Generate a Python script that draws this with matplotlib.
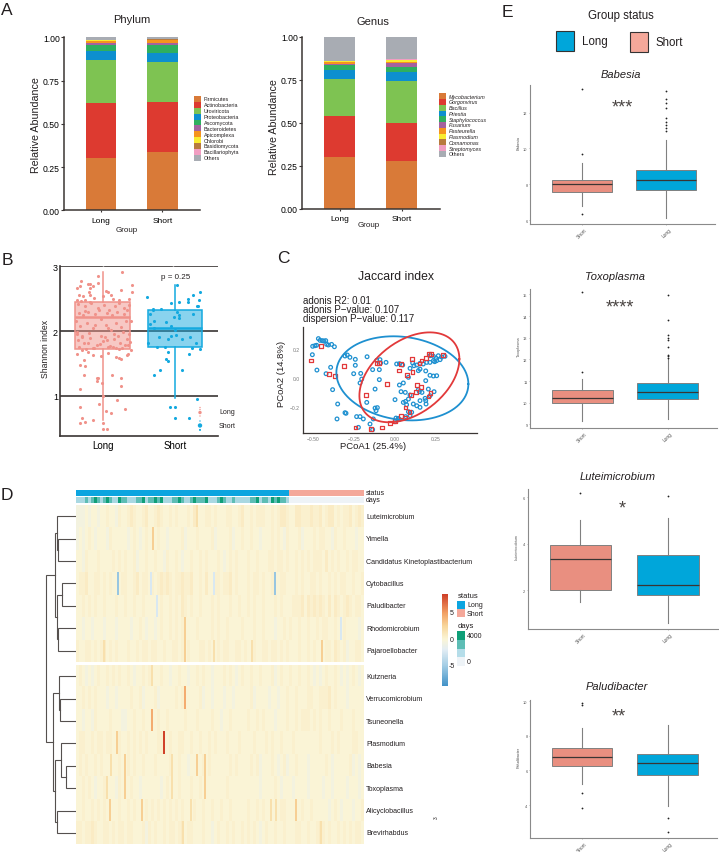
import matplotlib
matplotlib.use("Agg")
import matplotlib.pyplot as plt
import numpy as np
from matplotlib.patches import Rectangle
from matplotlib.colors import LinearSegmentedColormap, ListedColormap

plt.rcParams['font.family'] = ['Liberation Sans', 'DejaVu Sans']
W, H = 719, 853
DARK = '#3a3533'

# ---------- A: stacked bars ----------
groups = ['Long', 'Short']
phylum_names = ['Firmicutes', 'Actinobacteria', 'Uroviricota', 'Proteobacteria', 'Ascomycota', 'Bacteroidetes',
                'Apicomplexa', 'Chlorobi', 'Basidiomycota', 'Bacillariophyta', 'Others']
phylum_long = [.304, .318, .245, .056, .033, .013, .010, .004, .002, .002, .013]
phylum_short = [.335, .293, .229, .050, .049, .011, .016, .003, .002, .002, .010]
genus_names = ['Mycobacterium', 'Gorgonvirus', 'Bacillus', 'Priestia', 'Staphylococcus', 'Fusarium',
               'Pasteurella', 'Plasmodium', 'Comamonas', 'Streptomyces', 'Others']
genus_long = [.299, .237, .217, .053, .031, .004, .009, .006, .002, .002, .140]
genus_short = [.276, .223, .245, .050, .029, .026, .003, .012, .002, .004, .130]
stack_colors = ['#D97A38', '#DD3A30', '#7EC352', '#0D8FCF', '#2FAF5F', '#A4629F',
                '#F5941E', '#F9EC31', '#B87A3E', '#F19EC2', '#A8ACB3']

# ---------- B: Shannon ----------
long_x = [-.32, -.29, -.32, -.25, -.13, -.055, .04, .12, .2, .31, 0, .01, .01, .06, -.31, -.26, -.31, -.24, -.26, -.36,
          -.29, -.08, -.06, -.08, -.01, .13, .25, .25, .19, .22, .25, -.02, .08, -.14, -.2, .34, .35, .39,
          .27, -.06, -.3, -.36, -.31, -.21, -.18, -.17, -.19, -.07, -.13, .4, .4, .25, .05, .07, .12, -.33, -.27, -.18,
          -.12, .01, .14, .36, .22, -.36, -.3, -.25, -.17,
          -.34, -.25, -.24, -.16, -.07, .02, .09, .17, .23, .3, .37, -.33, -.27, -.2, -.11, -.05, .06, .13, .2, .29, .34,
          -.37, -.31, -.22, -.14, -.03, .05, .11, .18, .26, .32, .39, -.35, -.28, -.19, -.1, .03, .08, .15, .21, .28, .36,
          -.34, -.26, -.17, -.08, .0, .07, .16, .24, .31, .38, -.33, -.23, -.12, -.04, .1, .19, .27, .35,
          -.36, -.29, -.21, -.13, -.02, .06, .14, .22, .33]
long_y = [.82, .66, .58, .59, .62, .87, .76, .74, .94, .79, 1.0, .58, .49, .49, 1.11, 1.32, 1.48, 1.46, 1.55, 1.65,
          1.71, 1.27, 1.27, 1.22, 1.19, 1.32, 1.28, 1.15, 1.6, 1.58, 1.57, 1.62, 1.66, 1.63, 1.68, 1.63, 1.64, 1.7,
          2.92, 2.85, 2.78, 2.66, 2.69, 2.73, 2.73, 2.66, 2.61, 2.75, 2.7, 2.71, 2.61, 2.64, 2.62, 2.61, 2.55, 2.55, 2.54, 2.55,
          2.51, 2.54, 2.49, 2.5, 2.48, 2.48, 2.47, 2.48, 2.45,
          2.42, 2.39, 2.31, 2.43, 2.36, 2.41, 2.33, 2.39, 2.44, 2.35, 2.4, 2.28, 2.25, 2.3, 2.26, 2.32, 2.28, 2.24, 2.3, 2.27, 2.32,
          2.15, 2.08, 2.12, 2.05, 2.18, 2.1, 2.02, 2.13, 2.06, 2.16, 2.15, 1.98, 1.93, 1.97, 2.09, 1.9, 2.04, 1.96, 1.92, 1.99, 1.95,
          1.86, 1.82, 1.89, 1.78, 1.84, 1.76, 1.88, 1.81, 1.79, 1.83, 1.76, 1.72, 1.74, 1.8, 1.77, 1.74, 1.73, 1.78,
          1.95, 1.9, 1.82, 1.73, 1.92, 1.86, 1.75, 1.72, 1.87]
short_x = [-.39, .03, -.05, .06, .18, .18, .25, .34, .33, .3, .32, -.31, -.3, -.19, -.34, .03, .06, .05, -.01, .25, -.29,
           -.12, -.35, -.29, -.06, 0, -.22, .02, -.05, -.09, .1, .21, -.38, .29, -.25, -.14, .24, .35, .19, -.1, -.12, -.1,
           -.21, -.29, .1, .3, -.07, 0, 0, .2]
short_y = [2.53, 2.71, 2.43, 2.45, 2.49, 2.45, 2.56, 2.6, 2.48, 2.38, 2.38, 2.34, 2.32, 2.34, 2.27, 2.3, 2.25, 2.2, 2.22, 2.27, 2.16,
           2.14, 2.11, 2.04, 2.07, 2.02, 1.9, 1.94, 1.93, 1.87, 1.88, 1.9, 1.82, 1.82, 1.75, 1.75, 1.73, 1.72, 1.65, 1.68, 1.57, 1.54,
           1.4, 1.32, 1.39, .95, .83, .83, .65, .65]
shannon_long_box = dict(q1=1.716, med=2.22, q3=2.45, whislo=.62, whishi=2.92, fliers=[])
shannon_short_box = dict(q1=1.75, med=2.05, q3=2.33, whislo=.96, whishi=2.71, fliers=[])

# ---------- C: PCoA ----------
pc_blue_x = [-.469, -.459, -.445, -.435, -.424, -.504, -.49, -.48, -.418, -.408, -.388, -.371, -.506, -.478, -.394, -.422,
             -.382, -.351, -.355, -.306, -.3, -.306, -.292, -.276, -.243, -.243, -.253, -.21, -.204, -.214, -.171, -.112,
             -.092, -.088, -.055, -.096, -.137, -.096, -.122, -.173, -.122, -.108, -.116, -.235, -.214, -.224, -.153, -.137,
             -.194, -.133, .006, .02, 0, .027, .01, .027, .047, .108, .116, .133, .153, .173, .194, .214, .235, .251, .265,
             .286, .306, .276, .255, .243, .214, .235, .188, .153, .143, .092, .214, .235, .255, .188, .082, .051, .027, .037,
             .063, .092, .149, .165, .143, .204, .239, .214, 0, .065, .051, .082, .071, .112, .133, .153, .184, .188, .19,
             .153, .082, .102, .065, .092]
pc_blue_y = [.274, .262, .26, .257, .26, .221, .225, .228, .234, .23, .234, .218, .163, .057, .076, .032, -.078, -.177, -.28,
             -.237, -.241, .154, .161, .145, .131, .09, .032, .034, -.005, -.032, .149, .124, .129, .106, .11, .06, .06, -.009,
             -.074, -.166, -.205, -.202, -.223, -.264, -.264, -.338, -.315, -.354, -.28, -.28, -.274, -.276, -.299, -.283,
             .099, .101, .092, .106, .087, .092, .103, .099, .11, .11, .122, .138, .156, .147, .152, .129, .122, .115, .156,
             .152, .051, .064, .053, .069, .021, .016, .018, -.016, .007, -.032, -.046, -.092, -.097, -.115, -.092, -.097,
             -.078, -.074, -.092, -.12, -.147, -.159, -.166, -.143, -.182, -.177, -.189, -.154, -.138, -.154, -.177, -.2,
             -.23, -.234, -.264, -.257]
pc_red_x = [-.514, -.451, -.404, -.369, -.312, -.178, -.241, -.147, -.078, -.049, -.112, -.096, .035, .024, .073, .108, .104,
            .149, .163, .188, .208, .22, .292, .133, .159, .096, .127, .204, .218, .065, .088, .035, 0, -.031, .061]
pc_red_y = [.124, .225, .032, .014, .085, -.115, -.34, -.349, -.34, -.039, .106, .106, .097, .053, .023, .046, .133, .103, .122,
            .138, .168, .168, .161, -.046, -.06, -.113, -.092, -.126, -.103, -.202, -.234, -.26, -.292, -.308, -.269]
# ellipse: centre x, centre y, x radius, y radius, phase (rad)
ell_blue = (.045, 0.0, .404, .29, -.136)
ell_red = (.088, .007, .306, .31, .42)

# ---------- D: heatmap ----------
row_labels = ['Luteimicrobium', 'Yimella', 'Candidatus Kinetoplastibacterium', 'Cytobacillus', 'Paludibacter',
              'Rhodomicrobium', 'Pajaroellobacter', 'Kutzneria', 'Verrucomicrobium', 'Tsuneonella', 'Plasmodium',
              'Babesia', 'Toxoplasma', 'Alicyclobacillus', 'Brevirhabdus']
heat_levels = {'0': -5.5, '1': -2.5, '2': -.6, '3': 0, '4': .35, '5': .75, '6': 1.7, '7': 2.8, '8': 4.5, '9': 8.5}
# broad background value per 3-sample block
heat_rows = [
    "22232332 33433243 34543345 33454334 34333435 33344343 33443345 33434443 34345543 35544454 45345534 34453454",
    "23234323 33243333 32343234 33343323 33342333 43333423 33342334 33433233 34343243 33423334 34433243 34333233",
    "33243334 33334343 43342334 33433243 34323343 34343334 32343433 34334333 44344343 34343434 44353434 33434433",
    "34453344 34343334 43345344 34345454 34454453 34353344 34453433 34344343 34334433 34343344 34334343 44334334",
    "33434343 34333433 43343343 33334334 34354343 34333434 33343343 34343343 33434333 44453545 45435354 34543443",
    "33233233 32333233 33233432 33234334 34343333 43333434 33433334 33343343 33233434 33433433 43443343 34333323",
    "43344343 45343433 34334344 34433433 44343433 34434334 34433443 43343344 34434343 33433434 33344354 34233443",
    "34323234 33434343 34323343 43334332 33433233 43433233 34343234 33433433 34234334 33433432 32343343 23234323",
    "33434343 33233233 33433423 33423333 34343333 34233233 32332333 33423333 23323343 34333443 34445343 33233333",
    "33233243 33343332 23343343 33343343 33334333 43333433 23343333 34334343 33233343 34344434 34334333 43334333",
    "34433434 43443343 34343434 33344334 33443343 34334343 33433343 33343334 34334333 43333333 34333434 33334433",
    "34343343 43333343 34343343 33433334 33433233 33434333 33343433 33434233 34323423 34333233 33343233 33342323",
    "33434323 34333243 33433233 33332343 33433343 34333333 33433333 33333233 33432333 23333233 33233233 33233323",
    "33433434 34333343 34343334 34343434 34343334 33433433 43343333 34334343 33334433 33343343 33332343 23332334",
    "44344543 34434344 34433342 43433434 43453443 33433234 33434334 34343234 33433433 34433433 45434334 34343443",
]
# narrow stripes, each two samples wide: (row, first sample, level)
heat_spikes = [(0, 120, '6'), (1, 76, '7'), (3, 41, '0'), (3, 74, '1'), (3, 137, '1'), (3, 198, '0'), (4, 80, '1'),
               (5, 108, '7'), (5, 264, '1'), (6, 27, '6'), (6, 108, '7'), (6, 137, '6'), (6, 175, '6'), (6, 245, '7'),
               (7, 75, '6'), (8, 108, '8'), (9, 75, '8'), (10, 87, '9'), (10, 40, '7'), (11, 48, '7'),
               (11, 34, '6'), (11, 120, '7'), (11, 128, '7'), (11, 95, '6'), (12, 48, '7'), (12, 95, '6'), (12, 128, '7'),
               (12, 30, '6'), (13, 33, '7'), (13, 65, '7'), (13, 219, '7'), (13, 194, '6'), (13, 199, '6'), (13, 114, '6'),
               (14, 244, '6'), (14, 106, '6')]
status_row = "11111111 11111111 11111111 11111111 11111111 11111111 11111111 11111111 11111110 00000000 00000000 00000000"
days_row = "11121232 12321132 21112231 22323111 22321123 22231112 32112111 11223122 13232210 00000000 00000000 00000000"
# leaf = row index, node = (height, child, child)
tree = (30,
        (21, (18.7, 0, (17.7, 1, 2)), (18.7, (14.3, 3, 4), (17.7, 5, 6))),
        (22.7, (17, 7, (16, 8, 9)), (21, (15, 10, (10.3, 11, 12)), (18.7, 13, 14))))
status_names = ['Long', 'Short']
cbar_ticks = [5, 0, -5]

# ---------- E: boxplots ----------
box_titles = ['Babesia', 'Toxoplasma', 'Luteimicrobium', 'Paludibacter']
box_stars = ['***', '****', '*', '**']
box_short = [
    dict(q1=7.59, med=8.0, q3=8.26, whislo=6.81, whishi=9.17, fliers=[9.69, 6.35, 13.3]),
    dict(q1=10.0, med=10.23, q3=10.57, whislo=9.14, whishi=11.09, fliers=[11.43, 15.09]),
    dict(q1=2.03, med=3.37, q3=3.97, whislo=1.5, whishi=5.02, fliers=[6.17]),
    dict(q1=6.25, med=6.75, q3=7.29, whislo=5.19, whishi=8.42, fliers=[4.67, 3.82, 9.79, 9.88]),
]
box_long = [
    dict(q1=7.7, med=8.22, q3=8.82, whislo=6.1, whishi=10.49,
         fliers=[13.19, 12.78, 12.54, 12.28, 11.68, 11.46, 11.3, 11.16, 11.0]),
    dict(q1=10.18, med=10.49, q3=10.92, whislo=9.25, whishi=12.05,
         fliers=[14.97, 13.83, 13.15, 12.98, 12.9, 12.57, 12.2, 12.15, 12.08]),
    dict(q1=1.8, med=2.21, q3=3.5, whislo=.6, whishi=5.13, fliers=[6.07]),
    dict(q1=5.73, med=6.42, q3=6.94, whislo=3.96, whishi=8.63, fliers=[3.23, 2.44]),
]
box_ylim = [(5.79, 13.54), (8.85, 15.25), (.337, 6.36), (2.08, 10.08)]
box_yticks = [[6, 8, 10, 12], [9, 10, 11, 12, 13, 14, 15], [2, 4, 6], [4, 6, 8, 10]]
box_rect = [(530.3, 86, 715, 225), (530.3, 290, 717, 428.7), (527.7, 490, 717.7, 630), (530.3, 700.7, 716.7, 839.3)]

fig = plt.figure(figsize=(W / 100, H / 100), dpi=100, facecolor='white')


def px_axes(l, t, r, b, **kw):
    return fig.add_axes([l / W, 1 - b / H, (r - l) / W, (b - t) / H], **kw)


ov = px_axes(0, 0, W, H)
ov.set_xlim(0, W)
ov.set_ylim(H, 0)
ov.axis('off')
ov.set_zorder(10)
ov.patch.set_alpha(0)


def T(x, y, s, size=6, ha='center', va='center', **kw):
    kw.setdefault('color', '#231f20')
    ov.text(x, y, s, fontsize=size, ha=ha, va=va, **kw)


for s, x, y in [('A', 7, 10), ('B', 7, 260), ('C', 283, 258), ('D', 7, 495), ('E', 507, 12)]:
    T(x, y, s, size=12.5)


def stacked(rect, a, b):
    ax = px_axes(*rect)
    bot = np.zeros(2)
    for k in range(len(a)):
        v = np.array([a[k], b[k]])
        ax.bar([0, 1], v, bottom=bot, width=.5, color=stack_colors[k], lw=0)
        bot += v
    return ax


def style_stack(ax, names, title, tp, gp, yp, key, italic):
    ax.set_xticks([0, 1], groups)
    ax.set_ylim(0, 1)
    ax.set_yticks([0, .25, .5, .75, 1], ['0.00', '0.25', '0.50', '0.75', '1.00'])
    ax.tick_params(axis='y', labelsize=6.2, length=2, width=.8, pad=1, color=DARK)
    ax.tick_params(axis='x', labelsize=6, length=1.5, width=.8, pad=3, color=DARK)
    for s in ['top', 'right']:
        ax.spines[s].set_visible(False)
    for s in ['left', 'bottom']:
        ax.spines[s].set_linewidth(1.1)
        ax.spines[s].set_color(DARK)
    T(*tp, title, size=8)
    T(*gp, 'Group', size=5.8)
    T(*yp, 'Relative Abundance', size=7.7, rotation=90)
    x0, x1, y0, step, tx = key
    for k, n in enumerate(names):
        ov.add_patch(Rectangle((x0, y0 + k * step), x1 - x0, step, fc=stack_colors[k], lw=0))
        st = 'italic' if italic and n != 'Others' else 'normal'
        T(tx, y0 + (k + .5) * step, n, size=3.9, ha='left', style=st)


# bars: 1 unit = 61.3 px, bar centres at 101 and 162.3
ax = stacked((64, 38.3, 200, 211.3), phylum_long, phylum_short)
ax.set_xlim((64 - 101) / 61.3, (200 - 101) / 61.3)
style_stack(ax, phylum_names, 'Phylum', (132, 20), (127, 230), (36, 125), (194.3, 201, 97, 5.88, 204), False)
ax = stacked((302, 37.7, 440, 209.5), genus_long, genus_short)
ax.set_xlim((302 - 339.5) / 62, (440 - 339.5) / 62)
style_stack(ax, genus_names, 'Genus', (373, 22.3), (368.7, 225), (274, 126.7), (438.7, 445.7, 94.3, 5.76, 448.7), True)

# ---------- B ----------
PINK, BLUE = '#F0928A', '#14A9DF'
ax = px_axes(60, 266.7, 218, 437.3)
ax.set_xlim((60 - 102.7) / 72.3, (218 - 102.7) / 72.3)
ax.set_ylim(.372, 3.01)
ax.hlines([1, 2, 3], *ax.get_xlim(), color=DARK, lw=1.2, zorder=1)
ax.vlines([0, .97], 2.96, 3.01, color='white', lw=1, zorder=1.5)
ax.scatter(long_x, long_y, s=5, color=PINK, lw=0, zorder=2)
ax.scatter(np.array(short_x) + 1, short_y, s=5, color=BLUE, lw=0, zorder=2)
for st, pos, c in [(shannon_long_box, 0, PINK), (shannon_short_box, 1, BLUE)]:
    ax.bxp([dict(st)], positions=[pos], widths=.756, patch_artist=True, showcaps=False, showfliers=False,
           boxprops=dict(facecolor=matplotlib.colors.to_rgba(c, .5), edgecolor=c, lw=1.1),
           whiskerprops=dict(color=c, lw=1.1), medianprops=dict(color=c, lw=1.8), zorder=3)
ax.set_xticks([0, 1], ['Long', 'Short'])
ax.set_yticks([1, 2, 3], ['1', '2', '3'])
ax.tick_params(axis='x', labelsize=7, length=0, pad=3)
ax.tick_params(axis='y', labelsize=6.5, length=0, pad=1.5)
for s in ['top', 'right']:
    ax.spines[s].set_visible(False)
for s in ['left', 'bottom']:
    ax.spines[s].set_linewidth(1.2)
    ax.spines[s].set_color(DARK)
T(45, 349, 'Shannon index', size=6.2, rotation=90)
T(176, 277.7, 'p = 0.25', size=5.8)
T(219, 413, 'Long', size=5, ha='left')
T(219, 426, 'Short', size=5, ha='left')
ov.scatter([200, 200, 200, 200], [408.5, 410.5, 413.5, 417], s=[1, 1, 6, 1], color=PINK, lw=0)
ov.scatter([200, 200, 200, 200], [422, 426.5, 430.5, 431], s=[1, 10, 1, 2], color=BLUE, lw=0)

# ---------- C ----------
ax = px_axes(302.7, 328.3, 476.7, 434.3)
ax.set_xlim(-.565, .5)
ax.set_ylim(-.379, .352)
ax.scatter(pc_blue_x, pc_blue_y, s=7, facecolors='none', edgecolors='#1E90D0', lw=.9, zorder=2)
ax.scatter(pc_red_x, pc_red_y, s=7, marker='s', facecolors='none', edgecolors='#E2393A', lw=.9, zorder=3)
t = np.linspace(0, 2 * np.pi, 200)
for (cx, cy, rx, ry, ph), c in [(ell_blue, '#1E90D0'), (ell_red, '#E2393A')]:
    ax.plot(cx + rx * np.cos(t), cy + ry * np.sin(t + ph), color=c, lw=1.3, zorder=4, clip_on=False)
ax.set_xticks([-.5, -.25, 0, .25], ['−0.50', '−0.25', '0.00', '0.25'])
ax.set_yticks([-.2, 0, .2], ['−0.2', '0.0', '0.2'])
ax.tick_params(axis='both', labelsize=3.6, labelcolor='#777777', length=0, pad=2)
for s in ['top', 'right']:
    ax.spines[s].set_visible(False)
for s in ['left', 'bottom']:
    ax.spines[s].set_linewidth(.9)
    ax.spines[s].set_color(DARK)
T(396, 276.7, 'Jaccard index', size=8.8)
T(303.3, 300.7, 'adonis R2: 0.01', size=7, ha='left')
T(303.3, 310, 'adonis P−value: 0.107', size=7, ha='left')
T(303.3, 319.3, 'dispersion P−value: 0.117', size=7, ha='left')
T(373.3, 446.7, 'PCoA1 (25.4%)', size=6.8)
T(282, 374, 'PCoA2 (14.8%)', size=6.8, rotation=90)

# ---------- D ----------
heat_cmap = LinearSegmentedColormap.from_list('heat', [
    (0, '#4393C8'), ((-5 + 9) / 17.65, '#a6cfe6'), ((-2 + 9) / 17.65, '#e4eef4'), ((0 + 9) / 17.65, '#fbf5d6'),
    ((2.5 + 9) / 17.65, '#f8d79c'), ((5 + 9) / 17.65, '#f3a265'), (1, '#cf3f28')])
M = np.array([[heat_levels[c] for c in r.replace(' ', '')] for r in heat_rows])
M = np.repeat(M, 3, axis=1)
for r, c, lv in heat_spikes:
    M[r, c:c + 2] = heat_levels[lv]
HL, HR = 76, 364
ROW_H = 22.4
for (a, b, top) in [(0, 7, 506), (7, 15, 666)]:
    ax = px_axes(HL, top, HR, top + ROW_H * (b - a))
    ax.imshow(M[a:b], aspect='auto', cmap=heat_cmap, vmin=-9, vmax=8.65, interpolation='nearest')
    ax.axis('off')
    for i in range(a, b):
        T(366, top + ROW_H * (i - a + .5), row_labels[i], size=5.1, ha='left')


def row_strip(s, t, b, colors):
    a = px_axes(HL, t, HR, b)
    a.imshow([[int(c) for c in s.replace(' ', '')]], aspect='auto', cmap=ListedColormap(colors), vmin=0,
             vmax=len(colors) - 1, interpolation='nearest')
    a.axis('off')


row_strip(status_row, 490.7, 496.7, ['#F4A89A', '#0CA5E0'])
row_strip(days_row, 498, 504, ['#eef3f7', '#a9d8e2', '#5dbdb5', '#0f9f78'])
T(366, 493.5, 'status', size=5, ha='left')
T(366, 501, 'days', size=5, ha='left')

ax = px_axes(40, 506, 76, 845)
ax.set_xlim(36, 0)
ax.set_ylim(845, 506)
ax.axis('off')


def row_y(i):
    return 506 + ROW_H * (i + .5) if i < 7 else 666 + ROW_H * (i - 7 + .5)


def draw(n):
    if not isinstance(n, tuple):
        return 0, row_y(n)
    h, a, b = n
    ha_, ya = draw(a)
    hb, yb = draw(b)
    ax.plot([ha_, h, h, hb], [ya, ya, yb, yb], color='#55504e', lw=.8, solid_joinstyle='miter')
    return h, (ya + yb) / 2


draw(tree)

ax = px_axes(441.5, 595, 447, 686.7)
grad = np.linspace(8.65, -9, 200)[:, None]
ax.imshow(grad, aspect='auto', cmap=heat_cmap, vmin=-9, vmax=8.65, extent=[0, 1, -9, 8.65])
ax.axis('off')
for v in cbar_ticks:
    T(452, 640 - v * 5.25, str(v), size=5)
T(457.3, 596.7, 'status', size=5.5, ha='left')
ov.add_patch(Rectangle((457.3, 601.7), 8, 8.2, fc='#0CA5E0', lw=0))
ov.add_patch(Rectangle((457.3, 609.9), 8, 8.2, fc='#F4A89A', lw=0))
T(467, 605.8, 'Long', size=5, ha='left')
T(467, 614, 'Short', size=5, ha='left')
T(457.3, 627, 'days', size=5.5, ha='left')
for k, c in enumerate(['#0f9f78', '#5dbdb5', '#b5dde9', '#eef3f7']):
    ov.add_patch(Rectangle((457.3, 632.3 + k * 8.6), 8, 8.6, fc=c, lw=0))
T(467, 636, '4000', size=5, ha='left')
T(467, 662, '0', size=5, ha='left')
T(436.7, 818, '3', size=3.5, rotation=90)

# ---------- E ----------
SH, LO = '#E98F80', '#00A6DA'
title_xy = [(620.7, 74.7), (615.3, 276.7), (617.7, 476.7), (616.7, 687.3)]
star_xy = [(622.7, 108), (620, 308), (622, 509), (619.3, 717)]
for i in range(4):
    ax = px_axes(*box_rect[i])
    ax.set_xlim(-.606, 1.575)
    b = ax.bxp([dict(box_short[i]), dict(box_long[i])], positions=[0, 1], widths=.71, patch_artist=True,
               showcaps=False,
               boxprops=dict(edgecolor='#808080', lw=.7),
               whiskerprops=dict(color='#808080', lw=.8),
               medianprops=dict(color='#3a3533', lw=.9),
               flierprops=dict(marker='o', ms=1.3, mfc='#222222', mec='none'))
    b['boxes'][0].set_facecolor(SH)
    b['boxes'][1].set_facecolor(LO)
    ax.set_ylim(*box_ylim[i])
    ax.set_yticks(box_yticks[i], [str(v) for v in box_yticks[i]])
    ax.set_xticks([0, 1], ['Short', 'Long'])
    ax.tick_params(axis='y', labelsize=2.8, length=1, width=.4, pad=1, labelcolor='#555555', color='#808080')
    ax.tick_params(axis='x', labelsize=3.5, length=1, width=.4, pad=1, labelcolor='#555555', color='#808080',
                   labelrotation=45)
    for s in ['top', 'right']:
        ax.spines[s].set_visible(False)
    for s in ['left', 'bottom']:
        ax.spines[s].set_linewidth(.8)
        ax.spines[s].set_color('#8a8a8a')
    T(*title_xy[i], box_titles[i], size=8, style='italic')
    T(*star_xy[i], box_stars[i], size=13, color='#4a4543')
    T(box_rect[i][0] - 11.5, (box_rect[i][1] + box_rect[i][3]) / 2 - 13, box_titles[i], size=2.8, rotation=90, color='#555555')

T(621, 15.7, 'Group status', size=8.3)
ov.add_patch(Rectangle((555.5, 32), 18.5, 20.3, fc=LO, ec='#333333', lw=.8))
ov.add_patch(Rectangle((629.5, 33), 18.3, 20.3, fc='#F4A89A', ec='#333333', lw=.8))
T(581.7, 42, 'Long', size=8.3, ha='left')
T(655, 43, 'Short', size=8.3, ha='left')

fig.savefig('out.png', dpi=100, facecolor='white')
